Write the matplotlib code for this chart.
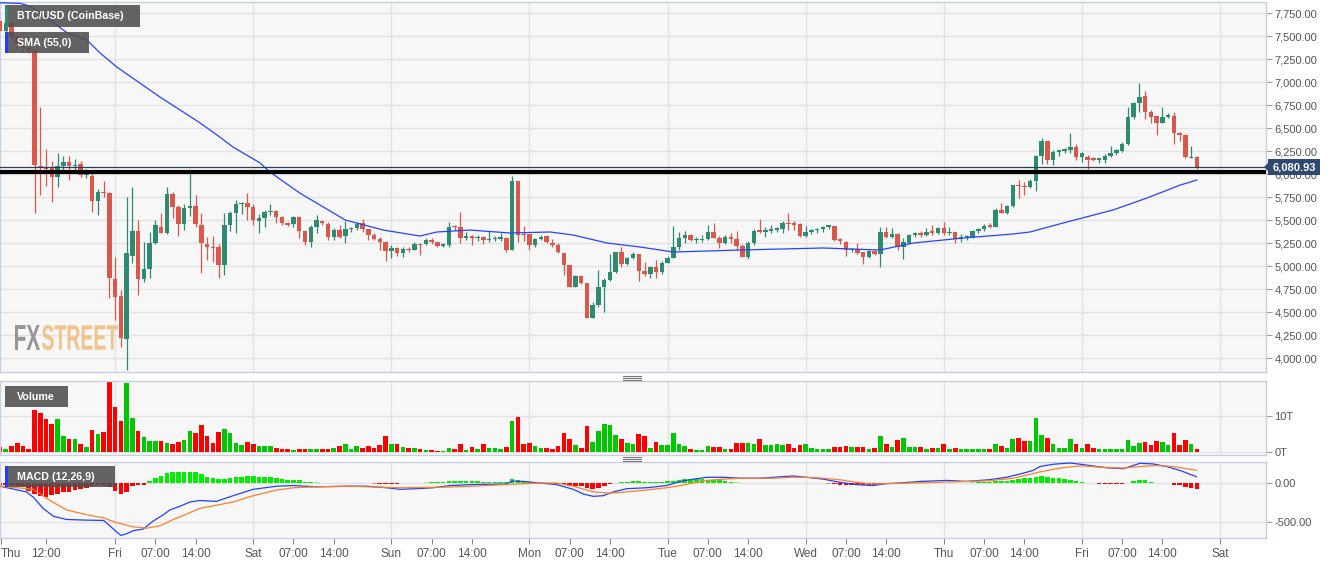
import matplotlib.pyplot as plt
import numpy as np
import pandas as pd
from matplotlib.font_manager import FontProperties
from matplotlib.lines import Line2D
from matplotlib.patches import PathPatch, Polygon, Rectangle
from matplotlib.textpath import TextPath
from matplotlib.transforms import Affine2D

W, H = 1331, 566

# hourly candles, hour 0 = Thu 00:00
hours = list(range(4, 213))

opens = [
    7660, 7560, 7640, 7490, 7400, 7370, 7350, 6090, 6075, 6065,
    5967, 6087, 6130, 6087, 6109, 5990, 5978, 5706, 5800, 5793,
    4859, 4674, 4206, 5109, 5380, 4859, 4967, 5250, 5424, 5359,
    5782, 5641, 5457, 5630, 5652, 5446, 5239, 5207, 5207, 5011,
    5446, 5576, 5674, 5685, 5641, 5493, 5526, 5584, 5602, 5536,
    5464, 5457, 5536, 5381, 5257, 5420, 5493, 5457, 5312, 5391,
    5323, 5399, 5410, 5464, 5399, 5337, 5294, 5265, 5167, 5192,
    5138, 5185, 5174, 5236, 5239, 5283, 5265, 5221, 5228, 5435,
    5428, 5301, 5326, 5301, 5312, 5283, 5290, 5294, 5301, 5174,
    5928, 5344, 5344, 5228, 5290, 5326, 5254, 5228, 5145, 5011,
    4776, 4895, 4812, 4439, 4576, 4768, 4848, 4939, 5156, 5022,
    5083, 5127, 4950, 4910, 4986, 4939, 5036, 5091, 5203, 5301,
    5337, 5283, 5283, 5290, 5373, 5308, 5247, 5312, 5290, 5218,
    5102, 5247, 5384, 5373, 5384, 5392, 5402, 5471, 5464, 5457,
    5330, 5373, 5392, 5402, 5428, 5434, 5282, 5264, 5174, 5181,
    5156, 5094, 5163, 5127, 5366, 5319, 5348, 5210, 5246, 5337,
    5348, 5337, 5373, 5362, 5409, 5355, 5366, 5293, 5311, 5311,
    5384, 5398, 5445, 5427, 5608, 5579, 5652, 5880, 5869, 5855,
    5927, 6199, 6362, 6152, 6242, 6253, 6260, 6297, 6181, 6188,
    6170, 6152, 6152, 6195, 6224, 6253, 6326, 6616, 6775, 6847,
    6677, 6630, 6558, 6623, 6630, 6449, 6424, 6174, 6188,
]
highs = [
    7700, 7660, 7660, 7500, 7420, 7390, 7360, 6728, 6270, 6140,
    6228, 6200, 6200, 6160, 6140, 6050, 6040, 5840, 5920, 5800,
    5098, 4739, 5750, 5859, 5500, 5261, 5370, 5500, 5576, 5859,
    5810, 5667, 5678, 6011, 5771, 5573, 5315, 5330, 5243, 5576,
    5598, 5717, 5700, 5793, 5670, 5570, 5609, 5674, 5609, 5540,
    5480, 5544, 5540, 5385, 5446, 5554, 5500, 5482, 5410, 5446,
    5493, 5428, 5482, 5507, 5400, 5355, 5312, 5275, 5228, 5210,
    5210, 5203, 5265, 5247, 5301, 5301, 5265, 5246, 5482, 5446,
    5591, 5373, 5337, 5337, 5326, 5380, 5326, 5355, 5312, 5978,
    5928, 5435, 5344, 5301, 5337, 5337, 5290, 5246, 5145, 5011,
    4902, 4902, 4812, 4613, 4957, 4866, 5131, 5156, 5210, 5102,
    5156, 5131, 5047, 5000, 5065, 5058, 5109, 5435, 5373, 5380,
    5344, 5319, 5337, 5446, 5464, 5326, 5337, 5355, 5384, 5239,
    5276, 5399, 5507, 5428, 5446, 5428, 5493, 5573, 5490, 5464,
    5439, 5399, 5410, 5435, 5446, 5440, 5310, 5275, 5200, 5253,
    5156, 5174, 5174, 5420, 5420, 5409, 5362, 5300, 5348, 5373,
    5384, 5409, 5446, 5427, 5482, 5427, 5373, 5348, 5337, 5391,
    5409, 5456, 5471, 5626, 5681, 5663, 5880, 5934, 5916, 5942,
    6206, 6387, 6362, 6260, 6260, 6278, 6449, 6326, 6242, 6206,
    6181, 6177, 6217, 6304, 6268, 6351, 6731, 6779, 6992, 6905,
    6695, 6630, 6724, 6666, 6677, 6460, 6434, 6304, 6195,
]
lows = [
    7540, 7540, 7480, 7370, 7330, 7320, 5576, 5772, 5870, 5695,
    5860, 6040, 5935, 6040, 5970, 5956, 5587, 5554, 5750, 4652,
    4413, 4120, 3870, 5033, 4685, 4826, 4870, 5240, 5359, 5350,
    5522, 5326, 5392, 5543, 5428, 4924, 5065, 5040, 4870, 4903,
    5380, 5356, 5570, 5500, 5446, 5355, 5428, 5555, 5464, 5446,
    5435, 5428, 5301, 5228, 5210, 5355, 5446, 5283, 5283, 5301,
    5254, 5373, 5392, 5373, 5283, 5283, 5174, 5054, 5083, 5109,
    5094, 5156, 5174, 5120, 5228, 5236, 5210, 5203, 5210, 5392,
    5247, 5283, 5228, 5276, 5239, 5265, 5276, 5276, 5156, 5174,
    5265, 5276, 5174, 5203, 5283, 5247, 5210, 5138, 4902, 4768,
    4768, 4805, 4432, 4432, 4558, 4504, 4841, 4928, 4993, 5011,
    5073, 4841, 4892, 4866, 4866, 4913, 5029, 5083, 5174, 5246,
    5276, 5254, 5265, 5283, 5301, 5192, 5239, 5247, 5174, 5094,
    5073, 5228, 5355, 5312, 5355, 5373, 5355, 5392, 5392, 5319,
    5312, 5348, 5355, 5373, 5399, 5275, 5240, 5108, 5156, 5130,
    5018, 5083, 5120, 4992, 5300, 5300, 5174, 5072, 5239, 5319,
    5319, 5326, 5337, 5348, 5337, 5337, 5253, 5264, 5282, 5300,
    5362, 5384, 5409, 5420, 5572, 5565, 5645, 5735, 5771, 5844,
    5818, 6108, 6108, 6097, 6195, 6232, 6224, 6152, 6134, 6050,
    6141, 6123, 6116, 6188, 6206, 6242, 6315, 6594, 6677, 6594,
    6550, 6423, 6550, 6605, 6326, 6362, 6170, 6170, 6058,
]
closes = [
    7560, 7640, 7490, 7400, 7370, 7350, 6098, 6070, 6060, 5967,
    6087, 6130, 6087, 6100, 5989, 6000, 5706, 5804, 5790, 4870,
    4663, 4217, 5141, 5380, 4859, 4967, 5250, 5446, 5359, 5782,
    5641, 5457, 5630, 5652, 5457, 5250, 5207, 5196, 5011, 5446,
    5576, 5674, 5685, 5641, 5500, 5526, 5591, 5602, 5536, 5464,
    5450, 5536, 5381, 5257, 5420, 5500, 5464, 5312, 5391, 5319,
    5399, 5417, 5457, 5399, 5337, 5294, 5265, 5167, 5192, 5138,
    5185, 5174, 5236, 5228, 5283, 5265, 5221, 5232, 5428, 5420,
    5301, 5326, 5301, 5312, 5283, 5290, 5301, 5312, 5174, 5928,
    5337, 5337, 5228, 5290, 5319, 5265, 5228, 5149, 5011, 4776,
    4895, 4812, 4439, 4576, 4768, 4848, 4939, 5156, 5022, 5083,
    5131, 4950, 4910, 4986, 4939, 5036, 5091, 5203, 5301, 5337,
    5283, 5294, 5294, 5373, 5308, 5247, 5312, 5290, 5218, 5102,
    5247, 5381, 5373, 5384, 5392, 5410, 5464, 5457, 5446, 5330,
    5373, 5392, 5402, 5428, 5435, 5282, 5275, 5174, 5185, 5145,
    5094, 5163, 5127, 5366, 5319, 5348, 5210, 5257, 5337, 5355,
    5340, 5373, 5362, 5409, 5355, 5373, 5293, 5319, 5319, 5384,
    5398, 5434, 5427, 5608, 5579, 5652, 5880, 5869, 5855, 5927,
    6199, 6362, 6152, 6242, 6253, 6268, 6297, 6181, 6232, 6152,
    6152, 6170, 6195, 6224, 6260, 6326, 6616, 6775, 6840, 6677,
    6623, 6558, 6623, 6630, 6449, 6424, 6181, 6188, 6081,
]
# volume in T
volume = [
    1.4, 0.7, 1.7, 2.5, 1.6, 0.7, 11.7, 10.9, 9.2, 7.9,
    9.2, 4.5, 3.7, 3.5, 2.3, 1.4, 6.1, 5.1, 5.6, 19.3,
    12.4, 8.6, 19.2, 9.3, 5.9, 4.2, 3.1, 3.1, 3.1, 2.5,
    2.1, 2.8, 3.3, 5.8, 5.3, 7.5, 4.4, 2.5, 5.6, 6.5,
    5.3, 2.5, 1.9, 2.8, 2.3, 1.6, 1.6, 1.6, 1.2, 0.7,
    0.7, 0.5, 0.9, 0.7, 0.9, 0.9, 0.9, 0.9, 1.2, 1.6,
    2.1, 0.9, 1.6, 1.2, 1.7, 1.1, 1.9, 4.5, 2.1, 2.1,
    1.4, 1.2, 1.2, 0.7, 0.5, 0.5, 0.3, 0.3, 1.2, 0.7,
    2.1, 0.5, 1.4, 0.7, 2.1, 1.2, 1.1, 0.9, 1.4, 8.7,
    9.8, 2.3, 2.6, 1.6, 1.1, 1.2, 0.9, 1.6, 5.4, 3.7,
    1.9, 1.2, 7.3, 2.8, 5.9, 7.7, 7.5, 4.7, 3.7, 2.5,
    2.1, 5.0, 4.4, 1.2, 2.8, 1.9, 1.9, 5.4, 2.1, 1.7,
    0.9, 0.5, 0.5, 1.7, 1.4, 1.4, 0.7, 0.9, 2.5, 2.6,
    2.5, 2.3, 3.7, 1.9, 1.9, 2.1, 1.9, 2.1, 1.1, 1.9,
    2.3, 1.1, 0.9, 0.9, 0.7, 1.4, 1.4, 1.6, 1.4, 1.4,
    1.4, 0.9, 1.1, 4.5, 2.1, 1.4, 3.3, 3.9, 1.4, 1.4,
    1.4, 0.7, 1.2, 1.0, 2.3, 0.9, 1.2, 0.7, 0.7, 0.7,
    0.7, 0.7, 0.9, 2.1, 1.6, 1.2, 3.7, 4.0, 3.1, 3.1,
    9.3, 4.7, 3.9, 2.1, 1.2, 1.0, 3.7, 2.3, 1.1, 2.1,
    1.0, 0.7, 0.7, 0.9, 0.7, 0.8, 3.3, 1.6, 2.5, 2.8,
    1.9, 3.1, 2.8, 1.9, 5.3, 1.9, 3.3, 2.1, 0.7,
]
macd_hist = [
    -20, -25, -30, -40, -55, -100, -140, -170, -175, -160,
    -140, -120, -110, -90, -73, -60, -40, -30, -20, -50,
    -100, -145, -110, -40, -32, -20, 20, 60, 90, 130,
    140, 142, 142, 140, 135, 110, 82, 70, 55, 53,
    60, 73, 82, 90, 90, 82, 73, 73, 60, 53,
    40, 32, 32, 12, 12, 8, 6, 5, 5, 5,
    4, -3, -4, -5, -6, -8, -10, -12, -12, -10,
    -6, -3, 3, 5, 8, 10, 12, 15, 28, 28,
    25, 25, 22, 20, 18, 15, 15, 15, 10, 50,
    40, 30, 15, 8, 3, -3, -8, -12, -15, -35,
    -40, -40, -65, -75, -60, -40, -15, 5, 10, 15,
    20, 20, 18, 18, 15, 18, 20, 28, 40, 45,
    45, 45, 45, 40, 40, 35, 25, 15, 8, 5,
    4, 4, 3, 3, 3, 3, 2, -2, -3, -4,
    -4, -5, -5, -6, -8, -10, -20, -25, -25, -30,
    -30, -30, -25, -20, -10, -5, -5, -3, -2, 2,
    3, 3, 5, 5, 6, 6, 6, 5, 6, 8,
    10, 12, 15, 20, 25, 30, 38, 48, 58, 70,
    82, 85, 77, 69, 61, 49, 41, 24, 12, 4,
    2, -12, -12, -12, -12, -12, 2, 28, 40, 32,
    16, 4, 3, -4, -20, -32, -49, -61, -81,
]

sma_hours = [4.0, 7.5, 9.2, 11.5, 15.7, 19.1, 21.4, 24.3, 28.3, 31.8, 35.3,
             38.8, 42.2, 44.5, 49.2, 50.9, 56.1, 64.0, 70.6, 77.0, 79.9,
             85.7, 92.6, 99.6, 103.6, 109.5, 115.2, 121.0, 132.6, 147.0,
             156.9, 162.7, 171.3, 180.0, 183.0, 188.7, 197.4, 203.3, 209.1, 212.0]
sma_values = [7862, 7855, 7826, 7728, 7533, 7457, 7315, 7163, 6989, 6837, 6696,
              6554, 6402, 6293, 6120, 6022, 5793, 5500, 5391, 5326, 5370,
              5391, 5359, 5370, 5337, 5250, 5207, 5152, 5174, 5196,
              5174, 5250, 5304, 5348, 5370, 5467, 5609, 5739, 5880, 5935]

macd_hours = [4.0, 8.6, 9.8, 11.5, 13.3, 15.6, 19.1, 22.0, 23.1, 24.0, 25.0,
              26.0, 27.2, 28.9, 30.6, 32.4, 33.5, 35.3, 37.0, 38.7, 41.6,
              44.5, 48.0, 52.1, 55.0, 59.0, 64.8, 67.7, 71.2, 73.5, 76.4,
              79.3, 82.2, 86.2, 92.0, 93.0, 95.0, 97.8, 100.7, 103.6, 105.4,
              107.1, 108.8, 110.6, 112.9, 116.4, 119.8, 122.2, 124.5, 126.8,
              129.7, 132.6, 136.0, 138.4, 141.8, 144.2, 147.1, 150.0, 152.8,
              155.7, 158.0, 160.4, 163.9, 168.5, 171.9, 175.8, 178.9, 181.2,
              183.5, 184.7, 187.0, 189.9, 192.2, 196.3, 199.2, 202.1, 204.4,
              206.7, 209.0, 211.9]
macd_values = [-41, -114, -183, -326, -427, -468, -476, -480, -549, -610, -672,
               -651, -610, -590, -488, -407, -346, -297, -244, -224, -236,
               -163, -81, -41, -33, -49, -41, -41, -61, -81, -73,
               -61, -33, -20, -12, 25, 20, 0, -20, -81, -142,
               -171, -163, -114, -73, -61, -33, 20, 49, 73,
               73, 61, 61, 73, 90, 73, 49, 8, -20,
               -33, -8, 0, 20, 33, 20, 41, 73, 114,
               160, 211, 240, 256, 236, 195, 183, 252, 244,
               211, 162, 81]

signal_hours = [4.0, 9.8, 12.7, 15.6, 19.1, 22.0, 24.3, 27.2, 29.5, 31.8, 34.1,
                36.4, 38.7, 41.6, 44.5, 48.0, 52.1, 55.0, 59.0, 64.8, 67.7,
                73.5, 82.2, 86.2, 92.0, 97.8, 100.7, 103.6, 107.1, 110.0, 112.9,
                116.4, 119.8, 122.2, 124.5, 126.8, 129.7, 132.6, 136.0, 138.4,
                141.8, 144.2, 147.1, 150.0, 152.8, 155.7, 158.6, 162.7, 168.5,
                175.8, 180.1, 184.7, 188.5, 191.9, 195.2, 199.2, 202.1, 205.0,
                207.9, 211.9]
signal_values = [-41, -81, -224, -346, -407, -448, -509, -562, -578, -549, -468,
                 -399, -326, -285, -244, -163, -90, -61, -49, -41, -49,
                 -61, -52, -41, -20, 0, 0, -41, -114, -130, -114,
                 -90, -61, -33, 0, 33, 49, 61, 61, 61,
                 73, 73, 61, 41, 8, -12, -8, 0, 12,
                 28, 61, 142, 195, 220, 203, 191, 211, 224,
                 211, 162]

price_ticks = [4000, 4250, 4500, 4750, 5000, 5250, 5500, 5750, 6000, 6250,
               6500, 6750, 7000, 7250, 7500, 7750]
day_hours = [24, 48, 72, 96, 120, 144, 168, 192, 216]
tick_hours = [4.2, 12, 24, 31, 38, 48, 55, 62, 72, 79, 86, 96, 103, 110, 120,
              127, 134, 144, 151, 158, 168, 175, 182, 192, 199, 206, 216]
tick_labels = ["Thu", "12:00", "Fri", "07:00", "14:00", "Sat", "07:00", "14:00",
               "Sun", "07:00", "14:00", "Mon", "07:00", "14:00", "Tue", "07:00",
               "14:00", "Wed", "07:00", "14:00", "Thu", "07:00", "14:00", "Fri",
               "07:00", "14:00", "Sat"]
support_level = 6020
last_price = 6080.93

GREEN = "#2e8b6f"
RED = "#d9584b"
GRID = "#e3e3e3"
SPINE = "#c8cfe0"
TEXT = "#555555"


def fx(x):
    return x / W


def fy(y):
    return 1 - y / H


def add_box(fig, x0, y0, x1, y1, color, alpha=1.0, z=5):
    rect = Rectangle((fx(x0), fy(y1)), (x1 - x0) / W, (y1 - y0) / H,
                     transform=fig.transFigure, facecolor=color, edgecolor="none",
                     alpha=alpha, zorder=z)
    fig.add_artist(rect)


def add_label(fig, x0, y0, x1, y1, text, strip=None):
    add_box(fig, x0, y0, x1, y1, "#4f4f4f", alpha=0.88)
    if strip:
        add_box(fig, x0, y0, x0 + 3, y1, strip, z=6)
    fig.text(fx(x0 + 12), fy((y0 + y1) / 2), text, color="white", fontsize=7.7,
             fontweight="bold", va="center", ha="left", zorder=7)


def fitted_text(fig, ax, text, x0, y0, x1, y1, color):
    prop = FontProperties(family="Liberation Sans", weight="bold")
    tp = TextPath((0, 0), text, size=1, prop=prop)
    ext = tp.get_extents()
    sx = (x1 - x0) / ext.width
    sy = (y1 - y0) / ext.height
    tr = (Affine2D().translate(-ext.x0, -ext.y0).scale(sx / W, sy / H)
          .translate(fx(x0), fy(y1)) + fig.transFigure)
    ax.add_patch(PathPatch(tp, transform=tr, facecolor=color, edgecolor="none",
                           alpha=0.9, zorder=1))


def style_axis(ax):
    ax.set_facecolor("#f7f7f7")
    for sp in ax.spines.values():
        sp.set_color(SPINE)
        sp.set_linewidth(1)
    ax.yaxis.tick_right()
    ax.tick_params(axis="y", length=4, color="#999999", labelsize=8,
                   labelcolor=TEXT, pad=2)
    ax.tick_params(axis="x", bottom=False, labelbottom=False)
    ax.set_xlim(4.0, 224.0)
    ax.grid(axis="y", color=GRID, linewidth=1)
    ax.set_axisbelow(True)
    for d in day_hours:
        ax.axvline(d, color=GRID, linewidth=1, zorder=0.5)


def main():
    plt.rcParams["font.family"] = ["Liberation Sans", "DejaVu Sans"]

    df = pd.DataFrame({"open": opens, "high": highs, "low": lows,
                       "close": closes, "volume": volume, "hist": macd_hist},
                      index=hours)
    up = df["close"] >= df["open"]
    candle_colors = np.where(up, GREEN, RED)

    fig = plt.figure(figsize=(W / 100, H / 100), dpi=100)
    ax = fig.add_axes([0, fy(372), fx(1266), (372 - 2) / H])
    ax_vol = fig.add_axes([0, fy(455), fx(1266), (455 - 381) / H])
    ax_macd = fig.add_axes([0, fy(538), fx(1266), (538 - 462) / H])

    # price panel
    style_axis(ax)
    ax.set_ylim(3848, 7870)
    ax.set_yticks(price_ticks)
    ax.set_yticklabels([f"{p:,.2f}" for p in price_ticks])

    ax.vlines(df.index, df["low"], df["high"], colors=candle_colors,
              linewidth=0.9, zorder=2)
    body_low = np.minimum(df["open"], df["close"])
    body_h = np.maximum((df["close"] - df["open"]).abs(), 15)
    ax.bar(df.index, body_h, bottom=body_low, width=0.78, color=candle_colors,
           linewidth=0, zorder=3)

    ax.plot(sma_hours, sma_values, color="#2743ff", linewidth=0.9, zorder=4)
    ax.axhline(support_level, color="black", linewidth=3.0, zorder=5)
    ax.axhline(last_price, color="#2b3d5e", linewidth=0.9, zorder=5)

    fitted_text(fig, ax, "FX", 15, 325, 40, 350, "#8c8c8c")
    fitted_text(fig, ax, "STREET", 42, 325, 118, 350, "#f1bd7f")

    # volume panel
    style_axis(ax_vol)
    ax_vol.set_ylim(-0.83, 19.7)
    ax_vol.set_yticks([0, 10])
    ax_vol.set_yticklabels(["0T", "10T"])
    vol_colors = np.where(up, "#00c800", "#ff0000")
    ax_vol.bar(df.index, df["volume"], width=0.8, color=vol_colors,
               linewidth=0, zorder=2)

    # macd panel
    style_axis(ax_macd)
    ax_macd.set_ylim(-705, 269)
    ax_macd.set_yticks([0, -500])
    ax_macd.set_yticklabels(["0.00", "-500.00"])
    hist_colors = np.where(df["hist"] >= 0, "#00ee00", "#ff0000")
    hist_alpha = np.where(df["hist"].abs() >= 10, 1.0, 0.4)
    for h, v, c, a in zip(df.index, df["hist"], hist_colors, hist_alpha):
        ax_macd.bar(h, v, width=0.8, color=c, alpha=a, linewidth=0, zorder=2)
    ax_macd.plot(macd_hours, macd_values, color="#2040ff", linewidth=0.9, zorder=3)
    ax_macd.plot(signal_hours, signal_values, color="#ff7f2a", linewidth=0.9,
                 zorder=3)

    ax_macd.tick_params(axis="x", bottom=True, labelbottom=True, length=4,
                        color="#888888", labelsize=8.5, labelcolor=TEXT, pad=3)
    ax_macd.set_xticks(tick_hours)
    ax_macd.set_xticklabels(tick_labels)
    ax_macd.get_xticklabels()[0].set_ha("left")

    # overlay labels
    add_label(fig, 5, 5, 140, 27, "BTC/USD (CoinBase)", strip=GREEN)
    add_label(fig, 5, 32, 89, 53, "SMA (55,0)", strip="#1f3cff")
    add_label(fig, 5, 386, 68, 407, "Volume")
    add_label(fig, 5, 466, 115, 487, "MACD (12,26,9)", strip="#1f3cff")

    # last price tag
    add_box(fig, 1268, 159, 1320, 175, "#2f4a72", z=8)
    fig.add_artist(Polygon([(fx(1264), fy(167)), (fx(1268), fy(163)),
                            (fx(1268), fy(171))], closed=True,
                           transform=fig.transFigure, facecolor="#2f4a72",
                           edgecolor="none", zorder=8))
    fig.text(fx(1294), fy(167), f"{last_price:,.2f}", color="white", fontsize=8,
             fontweight="bold", ha="center", va="center", zorder=9)

    # panel drag handles
    for base in (375.5, 456.5):
        for k in range(3):
            fig.add_artist(Line2D([fx(623), fx(641)], [fy(base + 2 * k)] * 2,
                                  transform=fig.transFigure, color="#777777",
                                  linewidth=0.8))

    fig.savefig("out.png", dpi=100)


if __name__ == "__main__":
    main()
